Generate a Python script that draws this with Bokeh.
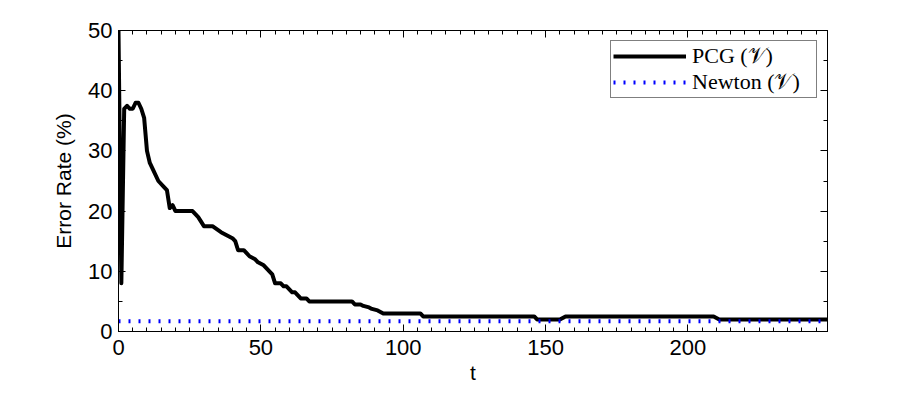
from bokeh.plotting import figure
from bokeh.models import LinearAxis, Range1d, Legend, LegendItem, FixedTicker
from bokeh.embed import file_html
from bokeh.resources import INLINE

# ---- data ----
t_pcg = [0, 1, 2, 3, 4, 5, 6, 7, 8, 9, 10, 11, 12, 14, 16, 17, 18, 19, 20,
         26, 28, 30, 33, 36, 38, 40, 41, 42, 44, 45, 46, 48, 49, 51, 53, 54,
         55, 57, 58, 59, 60, 61, 62, 63, 64, 66, 67, 82, 83, 85, 86, 88, 89,
         91, 93, 106, 107, 146, 147, 155, 157, 209, 211, 249]
err_pcg = [50, 8, 37, 37.5, 37, 37, 38, 38, 37, 35.5, 30, 28, 27, 25, 24, 23.5, 20.5, 21, 20,
           20, 19, 17.5, 17.5, 16.5, 16, 15.5, 15, 13.5, 13.5, 13, 12.5, 12, 11.5, 11, 10, 9.5,
           8, 8, 7.5, 7.5, 7, 6.5, 6.5, 6, 5.5, 5.5, 5, 5, 4.5, 4.5, 4.25, 4, 3.75,
           3.5, 3, 3, 2.5, 2.5, 2, 2, 2.5, 2.5, 2, 2]
t_newton = [0, 249]
err_newton = [1.7, 1.7]

x_major = [0, 50, 100, 150, 200]
x_minor = list(range(0, 250, 5))
y_major = [0, 10, 20, 30, 40, 50]
y_minor = list(range(0, 51, 5))

series_labels = ["PCG (\U0001D4B1)", "Newton (\U0001D4B1)"]

AX_FONT = "Liberation Sans"

p = figure(width=905, height=386, output_backend="svg", toolbar_location=None,
           x_range=Range1d(0, 249), y_range=Range1d(0, 50),
           min_border_left=118, min_border_right=78, min_border_top=30,
           min_border_bottom=52,
           x_axis_label="t", y_axis_label="Error Rate (%)")
p.xgrid.visible = False
p.ygrid.visible = False
p.outline_line_color = "black"
p.background_fill_color = "white"
p.border_fill_color = "white"

xt = FixedTicker(ticks=x_major, minor_ticks=x_minor)
yt = FixedTicker(ticks=y_major, minor_ticks=y_minor)


def style_axis(ax):
    ax.axis_line_color = "black"
    ax.major_tick_line_color = "black"
    ax.minor_tick_line_color = "black"
    ax.major_tick_in = 7
    ax.major_tick_out = 0
    ax.minor_tick_in = 4
    ax.minor_tick_out = 0
    ax.major_label_text_font = AX_FONT
    ax.major_label_text_font_size = "22px"
    ax.major_label_text_color = "black"
    ax.axis_label_text_font = AX_FONT
    ax.axis_label_text_font_size = "21px"
    ax.axis_label_text_font_style = "normal"
    ax.axis_label_text_color = "black"


style_axis(p.xaxis[0])
style_axis(p.yaxis[0])
p.xaxis[0].ticker = xt
p.yaxis[0].ticker = yt
p.xaxis[0].major_label_standoff = 8
p.xaxis[0].axis_label_standoff = 3
p.yaxis[0].major_label_standoff = 6
p.yaxis[0].axis_label_standoff = 10

top = LinearAxis(ticker=FixedTicker(ticks=x_major, minor_ticks=x_minor))
right = LinearAxis(ticker=FixedTicker(ticks=y_major, minor_ticks=y_minor))
for ax in (top, right):
    style_axis(ax)
    ax.major_label_text_font_size = "1px"
    ax.major_label_text_color = None
    ax.major_label_standoff = 0
p.add_layout(top, "above")
p.add_layout(right, "right")

r1 = p.line(t_pcg, err_pcg, line_color="black", line_width=4, line_join="round")
r2 = p.line(t_newton, err_newton, line_color="blue", line_width=4, line_dash="2 8")

legend = Legend(items=[LegendItem(label=series_labels[0], renderers=[r1]),
                       LegendItem(label=series_labels[1], renderers=[r2])],
                location="top_right", margin=10, padding=2, spacing=-3,
                glyph_width=73, glyph_height=24, label_height=24,
                label_standoff=6, label_width=122,
                label_text_font="Liberation Serif", label_text_font_size="22px",
                label_text_color="black",
                border_line_color="black", border_line_width=1,
                background_fill_color="white", background_fill_alpha=1)
p.add_layout(legend)

open("out.html", "w").write(file_html(p, INLINE))
